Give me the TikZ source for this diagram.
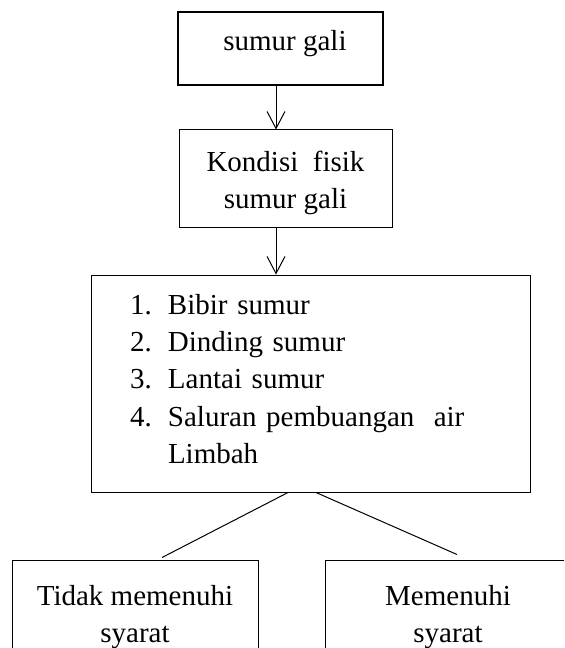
\documentclass[tikz,border=0pt]{standalone}
\usepackage{fontspec}
\setmainfont{Liberation Serif}
\usetikzlibrary{calc,arrows.meta}

\begin{document}
\begin{tikzpicture}[x=0.75pt,y=-0.75pt,
  font={\fontsize{21.75}{28.1}\selectfont},
  kotak/.style={draw,line width=0.75pt,align=center,inner sep=0pt},
  panah/.style={-{Straight Barb[length=12.75pt,width=13.5pt]},line width=0.75pt},
  garis/.style={line width=0.75pt}]
\useasboundingbox (0,0) rectangle (564,648);
\clip (0,0) rectangle (564,648);
\node[kotak,line width=1.8pt,minimum width=205*0.75pt,minimum height=73*0.75pt] (atas) at (280.5,48.5) {\hspace*{6.75pt}sumur gali\rule[-12.3pt]{0pt}{12.3pt}};
\node[kotak,minimum width=213*0.75pt,minimum height=98*0.75pt] (kondisi) at (285.5,179) {\rule{0pt}{21pt}Kondisi\ \ fisik\\sumur gali};
\node[kotak,minimum width=439*0.75pt,minimum height=217*0.75pt,text width=361*0.75pt,inner xsep=39*0.75pt,align=left] (utama) at (310.5,383.5)
  {\begin{tabular}{@{}p{28.5pt}@{}l@{}}
   1. & Bibir sumur\\
   2. & Dinding sumur\\
   3. & Lantai sumur\\
   4. & Saluran pembuangan\ \ air\\
      & Limbah\\[3pt]
   \end{tabular}};
\node[kotak,minimum width=246*0.75pt,minimum height=114*0.75pt] (tidak) at (135,617) {Tidak memenuhi\\syarat};
\node[kotak,minimum width=246*0.75pt,minimum height=114*0.75pt] (memenuhi) at (448,617) {Memenuhi\\syarat};
\coordinate (poros) at (276,0);
\draw[panah] (atas.south -| poros) -- (kondisi.north -| poros);
\draw[panah] (kondisi.south -| poros) -- (utama.north -| poros);
\draw[garis] ($(utama.south)+(-22.5,0)$) -- ($(tidak.north)+(27,-2)$);
\draw[garis] ($(utama.south)+(5.5,0)$) -- ($(memenuhi.north)+(9,-5)$);
\end{tikzpicture}
\end{document}
